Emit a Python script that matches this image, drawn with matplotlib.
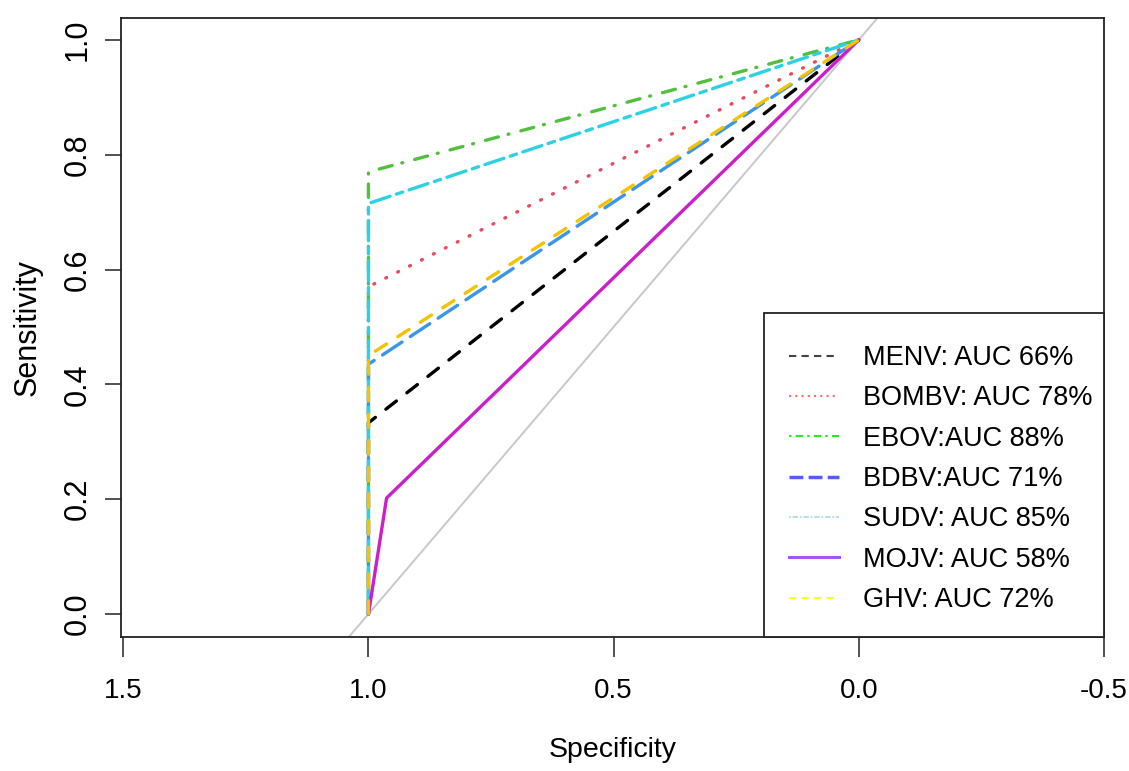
import matplotlib
matplotlib.use("Agg")
import matplotlib.pyplot as plt
from matplotlib.lines import Line2D
from matplotlib.patches import Rectangle

plt.rcParams["font.family"] = ["Liberation Sans", "DejaVu Sans"]

# ROC curves: (specificity, sensitivity) vertices per virus
NAMES = ["MENV", "BOMBV", "EBOV", "BDBV", "SUDV", "MOJV", "GHV"]
LABELS = ["MENV: AUC 66%", "BOMBV: AUC 78%", "EBOV:AUC 88%", "BDBV:AUC 71%",
          "SUDV: AUC 85%", "MOJV: AUC 58%", "GHV: AUC 72%"]
SPEC = {
    "MENV":  [1.0, 1.0, 0.0],
    "BOMBV": [1.0, 1.0, 0.0],
    "EBOV":  [1.0, 1.0, 0.0],
    "BDBV":  [1.0, 1.0, 0.0],
    "SUDV":  [1.0, 1.0, 0.0],
    "MOJV":  [1.0, 0.963, 0.0],
    "GHV":   [1.0, 1.0, 0.0],
}
SENS = {
    "MENV":  [0.0, 0.333, 1.0],
    "BOMBV": [0.0, 0.57, 1.0],
    "EBOV":  [0.0, 0.77, 1.0],
    "BDBV":  [0.0, 0.435, 1.0],
    "SUDV":  [0.0, 0.715, 1.0],
    "MOJV":  [0.0, 0.202, 1.0],
    "GHV":   [0.0, 0.45, 1.0],
}
X_TICKS = [1.5, 1.0, 0.5, 0.0, -0.5]
X_TICKLABELS = ["1.5", "1.0", "0.5", "0.0", "-0.5"]
Y_TICKS = [0.0, 0.2, 0.4, 0.6, 0.8, 1.0]
Y_TICKLABELS = ["0.0", "0.2", "0.4", "0.6", "0.8", "1.0"]

# styles: curve colour, R-like dash pattern (None = solid)
CURVE_COLOR = {"MENV": "#000000", "BOMBV": "#E84A5F", "EBOV": "#52C03C",
               "BDBV": "#3A96E6", "SUDV": "#2CD2E4", "MOJV": "#CC1FCC",
               "GHV": "#F5C200"}
CURVE_DASH = {"MENV": (4, 4), "BOMBV": (0.3, 3.7), "EBOV": (0.3, 3.7, 4, 3),
              "BDBV": (7, 3), "SUDV": (2, 2, 6, 2), "MOJV": None, "GHV": (4, 4)}
LEG_COLOR = {"MENV": "#444444", "BOMBV": "#FF6B6B", "EBOV": "#22EE22",
             "BDBV": "#5A5AF0", "SUDV": "#B0DCE8", "MOJV": "#A855F7",
             "GHV": "#FFFF22"}
LEG_DASH = {"MENV": (3.5, 2.5), "BOMBV": (1, 2), "EBOV": (1.2, 2, 3.5, 2),
            "BDBV": (4, 1.5), "SUDV": (1, 1, 3, 1), "MOJV": None, "GHV": (3.5, 2.5)}
LEG_LW = {"MENV": 1.5, "BOMBV": 1.5, "EBOV": 1.5, "BDBV": 2.5,
          "SUDV": 1.3, "MOJV": 2.2, "GHV": 1.5}

W, H = 1129, 771
AX_L, AX_R, AX_T, AX_B = 121, 1104, 18, 637
fig = plt.figure(figsize=(W / 100, H / 100), dpi=100)
ax = fig.add_axes([AX_L / W, 1 - AX_B / H, (AX_R - AX_L) / W, (AX_B - AX_T) / H])


def axfrac(px, py):
    return (px - AX_L) / (AX_R - AX_L), (AX_B - py) / (AX_B - AX_T)


# chance line
ax.axline((1.0, 0.0), (0.0, 1.0), color="#C8C8C8", lw=1.4, zorder=1)

for i, n in enumerate(NAMES):
    ls = "-" if CURVE_DASH[n] is None else (0, CURVE_DASH[n])
    ax.plot(SPEC[n], SENS[n], color=CURVE_COLOR[n], lw=2.4, linestyle=ls,
            dash_capstyle="round", solid_capstyle="round", zorder=2 + i)

ax.set_xlim(1.5046, -0.4995)
ax.set_ylim(-0.040, 1.038)
ax.set_xticks(X_TICKS)
ax.set_xticklabels(X_TICKLABELS, fontsize=20)
ax.set_yticks(Y_TICKS)
ax.set_yticklabels(Y_TICKLABELS, fontsize=22, rotation=90, va="center")
ax.tick_params(axis="x", length=14.4, width=1.1, pad=15, color="#222222")
ax.tick_params(axis="y", length=11.5, width=1.1, pad=9, color="#222222")
for s in ax.spines.values():
    s.set_linewidth(1.3)
    s.set_color("#222222")

ax.set_xlabel("Specificity", fontsize=20.5)
ax.set_ylabel("Sensitivity", fontsize=22)
ax.xaxis.set_label_coords(0.5, axfrac(0, 750)[1])
ax.xaxis.label.set_va("center")
ax.yaxis.set_label_coords(axfrac(28, 0)[0], 0.5)
ax.yaxis.label.set_va("center")

# legend frame anchored to the bottom-right corner
fx, fy = axfrac(764, 313)
ax.add_patch(Rectangle((fx, 0), 1 - fx, fy, transform=ax.transAxes,
                       facecolor="white", edgecolor="#222222", lw=1.3,
                       zorder=19, clip_on=False))

handles = []
for n in NAMES:
    ls = "-" if LEG_DASH[n] is None else (0, LEG_DASH[n])
    handles.append(Line2D([], [], color=LEG_COLOR[n], lw=LEG_LW[n], linestyle=ls))
leg = ax.legend(handles, LABELS, loc="upper left", bbox_to_anchor=axfrac(789, 345),
                borderaxespad=0, borderpad=0, fontsize=19.5, frameon=False,
                handlelength=1.85, handletextpad=0.9, labelspacing=0.53)
leg.set_zorder(20)

fig.savefig("out.png", dpi=100, facecolor="white")
